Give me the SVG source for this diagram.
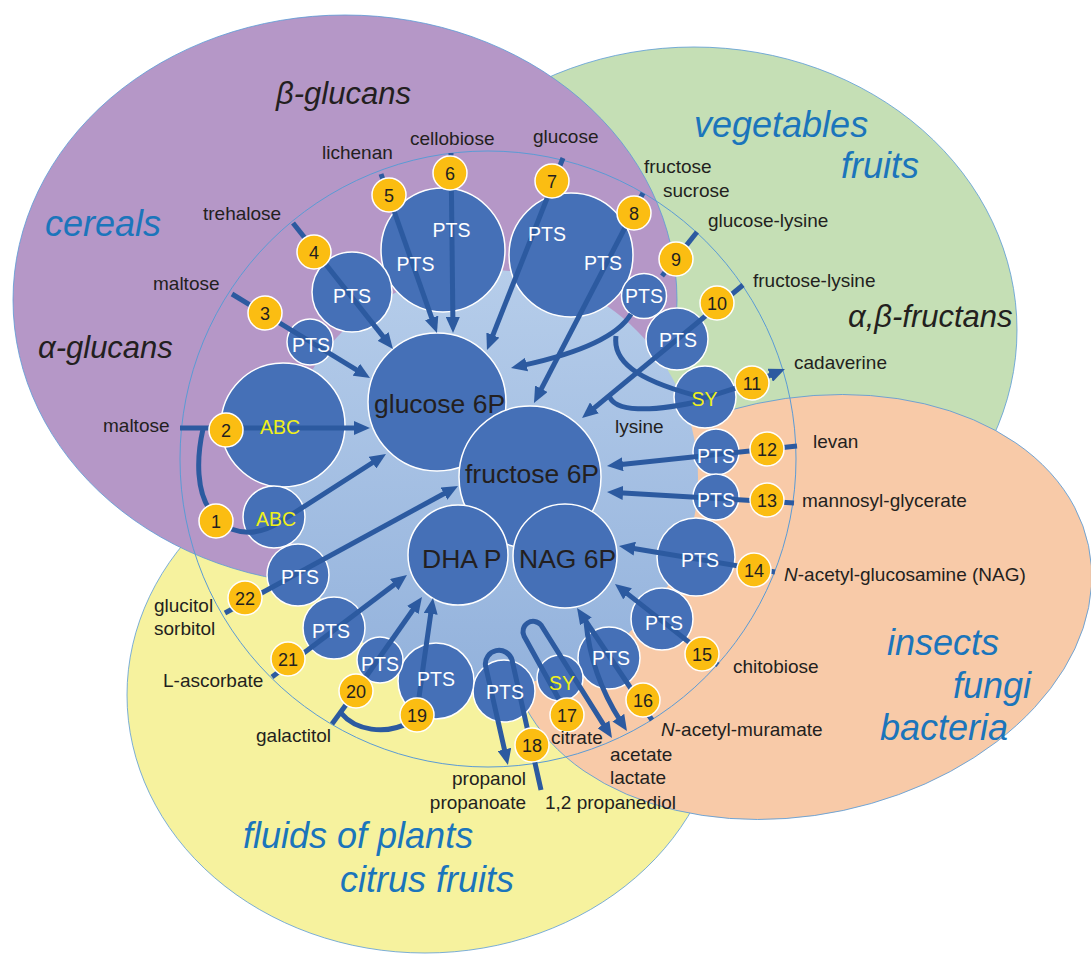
<svg xmlns="http://www.w3.org/2000/svg" width="1091" height="954" viewBox="0 0 1091 954">
<defs>
<linearGradient id="lb" x1="0" y1="0" x2="0" y2="1">
<stop offset="0" stop-color="#b6cdea"/><stop offset="1" stop-color="#93b2dc"/>
</linearGradient>
<marker id="ah" markerUnits="userSpaceOnUse" markerWidth="16" markerHeight="14" viewBox="0 0 16 14" refX="4" refY="7" orient="auto">
<path d="M0,0 L16,7 L0,14 z" fill="#2c5aa0"/>
</marker>
<style>
text{font-family:"Liberation Sans",Arial,sans-serif}
.t{font-size:19px;fill:#231f20}
.big{font-size:36px;font-style:italic;fill:#1b75bb}
.bigk{font-size:31px;font-style:italic;fill:#231f20}
.node{fill:#4570b7;stroke:#fff;stroke-width:1.5}
.num{fill:#fbbd12;stroke:#fff;stroke-width:1.5}
.numt{font-size:18px;text-anchor:middle;fill:#231f20}
.pts{font-size:19.5px;text-anchor:middle;fill:#fff}
.abc{font-size:19.5px;text-anchor:middle;fill:#f0f01a}
.cen{font-size:26.5px;fill:#231f20}
.ell{stroke:#5b9bd5;stroke-width:0.8}
.c{fill:none;stroke:#2c5aa0;stroke-width:5}
.ca{fill:none;stroke:#2c5aa0;stroke-width:5;marker-end:url(#ah)}
</style>
</defs>

<g id="regions">
<ellipse class="ell" cx="694" cy="330" rx="323" ry="283" fill="#c5dfb5"/>
<ellipse class="ell" cx="425" cy="695" rx="298" ry="258" fill="#f6f29e"/>
<ellipse class="ell" cx="800" cy="607" rx="295" ry="208" fill="#f8caa8" transform="rotate(-12 800 607)"/>
<ellipse class="ell" cx="345" cy="300" rx="332" ry="285" fill="#b597c7"/>
<circle cx="488" cy="459" r="308" fill="none" stroke="#5b9bd5" stroke-width="1"/>
<circle cx="490" cy="478" r="208" fill="url(#lb)"/>
</g>

<g id="region-labels">
<text class="bigk" x="276" y="104">β-glucans</text>
<text class="big" x="45" y="236">cereals</text>
<text class="bigk" x="38" y="358">α-glucans</text>
<text class="big" x="694" y="137">vegetables</text>
<text class="big" x="841" y="178">fruits</text>
<text class="bigk" x="848" y="327">α,β-fructans</text>
<text class="big" x="887" y="655">insects</text>
<text class="big" x="953" y="698">fungi</text>
<text class="big" x="880" y="740">bacteria</text>
<text class="big" x="243" y="848">fluids of plants</text>
<text class="big" x="340" y="892">citrus fruits</text>
</g>

<g id="node-shapes">
<g id="n-pts56"><circle class="node" cx="443" cy="250" r="62"/></g>
<g id="n-pts78"><circle class="node" cx="571" cy="255" r="62"/></g>
<g id="n-pts4"><circle class="node" cx="352" cy="292" r="40"/></g>
<g id="n-pts3"><circle class="node" cx="310" cy="342" r="23"/></g>
<g id="n-abc2"><circle class="node" cx="283" cy="425" r="62"/></g>
<g id="n-abc1"><circle class="node" cx="274" cy="517" r="31"/></g>
<g id="n-pts9"><circle class="node" cx="644" cy="296" r="22.5"/></g>
<g id="n-pts10"><circle class="node" cx="677" cy="339" r="31"/></g>
<g id="n-sy11"><circle class="node" cx="705" cy="397" r="31"/></g>
<g id="n-pts12"><circle class="node" cx="716" cy="452" r="23"/></g>
<g id="n-pts13"><circle class="node" cx="716" cy="497" r="23"/></g>
<g id="n-pts14"><circle class="node" cx="696" cy="557" r="39"/></g>
<g id="n-pts15"><circle class="node" cx="662" cy="619" r="31"/></g>
<g id="n-pts16"><circle class="node" cx="609" cy="658" r="31"/></g>
<g id="n-sy17"><circle class="node" cx="560" cy="678" r="23"/></g>
<g id="n-pts18"><circle class="node" cx="504" cy="691" r="31"/></g>
<g id="n-pts19"><circle class="node" cx="436" cy="681" r="38"/></g>
<g id="n-pts20"><circle class="node" cx="380" cy="660" r="23"/></g>
<g id="n-pts21"><circle class="node" cx="334" cy="628" r="31"/></g>
<g id="n-pts22"><circle class="node" cx="298" cy="575" r="31"/></g>
<g id="n-glc6p"><circle class="node" cx="437" cy="402" r="69"/></g>
<g id="n-fru6p"><circle class="node" cx="530" cy="477" r="71"/></g>
<g id="n-dhap"><circle class="node" cx="458" cy="555" r="50"/></g>
<g id="n-nag6p"><circle class="node" cx="565" cy="556" r="52"/></g>
</g>

<g id="connectors">
<path class="ca" d="M180,428 L358,428"/>
<path class="c" d="M203,429 C196,460 197,492 210,510"/>
<path class="ca" d="M231,529 C250,536 266,531 280,522 L375.9,460.5"/>
<path class="ca" d="M232,294 L359.8,371.8"/>
<path class="ca" d="M293,223 L385.5,339.6"/>
<path class="ca" d="M381,174 L433,321.7"/>
<path class="ca" d="M451,153 L452.9,321"/>
<path class="ca" d="M563,158 L491.4,338.8"/>
<path class="ca" d="M643,193 L539.5,392.3"/>
<path class="c" d="M697,232 L662,276"/>
<path class="ca" d="M631,314 Q612,346 522.7,365.4"/>
<path class="ca" d="M616,336 C612,365 645,383 705,398 L752,383 L773.9,373.7"/>
<path class="c" d="M609,395 C613,412 650,413 705,400"/>
<path class="ca" d="M743,285 L591.3,410.4"/>
<path class="ca" d="M797,446 L618.9,464.7"/>
<path class="ca" d="M794,503 L619,492.7"/>
<path class="ca" d="M775,572 L630.8,548"/>
<path class="ca" d="M718,665 L624.4,591.4"/>
<path class="ca" d="M652,720 L583.7,618"/>
<path class="ca" d="M586,622 Q591,675 620.5,721"/>
<path class="ca" d="M566,712 L524,636 A10.2,10.2 0 0 1 541,625 L605.6,727.8"/>
<path class="ca" d="M541,790 L512,660 A13.6,13.6 0 0 0 485.5,665.7 L505.3,753.3"/>
<path class="ca" d="M417,712 Q424,660 431.3,609.9"/>
<path class="c" d="M332,724 L356,691"/>
<path class="c" d="M341,713 C355,730 385,736 410,722"/>
<path class="ca" d="M356,691 L415.1,606.8"/>
<path class="ca" d="M272,677 L397.4,582.2"/>
<path class="ca" d="M225,613 L447.5,491.7"/>
</g>

<g id="numbers">
<g id="n1"><circle class="num" cx="216" cy="521" r="17"/><text class="numt" x="216" y="527.5">1</text></g>
<g id="n2"><circle class="num" cx="226" cy="430" r="17"/><text class="numt" x="226" y="436.5">2</text></g>
<g id="n3"><circle class="num" cx="265" cy="313" r="17"/><text class="numt" x="265" y="319.5">3</text></g>
<g id="n4"><circle class="num" cx="314" cy="252" r="17"/><text class="numt" x="314" y="258.5">4</text></g>
<g id="n5"><circle class="num" cx="389" cy="195" r="17"/><text class="numt" x="389" y="201.5">5</text></g>
<g id="n6"><circle class="num" cx="450" cy="173" r="17"/><text class="numt" x="450" y="179.5">6</text></g>
<g id="n7"><circle class="num" cx="552" cy="181" r="17"/><text class="numt" x="552" y="187.5">7</text></g>
<g id="n8"><circle class="num" cx="634" cy="213" r="17"/><text class="numt" x="634" y="219.5">8</text></g>
<g id="n9"><circle class="num" cx="676" cy="259" r="17"/><text class="numt" x="676" y="265.5">9</text></g>
<g id="n10"><circle class="num" cx="717" cy="303" r="17"/><text class="numt" x="717" y="309.5">10</text></g>
<g id="n11"><circle class="num" cx="752" cy="383" r="17"/><text class="numt" x="752" y="389.5">11</text></g>
<g id="n12"><circle class="num" cx="767" cy="449" r="17"/><text class="numt" x="767" y="455.5">12</text></g>
<g id="n13"><circle class="num" cx="767" cy="500" r="17"/><text class="numt" x="767" y="506.5">13</text></g>
<g id="n14"><circle class="num" cx="754" cy="570" r="17"/><text class="numt" x="754" y="576.5">14</text></g>
<g id="n15"><circle class="num" cx="702" cy="654" r="17"/><text class="numt" x="702" y="660.5">15</text></g>
<g id="n16"><circle class="num" cx="643" cy="700" r="17"/><text class="numt" x="643" y="706.5">16</text></g>
<g id="n17"><circle class="num" cx="567" cy="715" r="17"/><text class="numt" x="567" y="721.5">17</text></g>
<g id="n18"><circle class="num" cx="532" cy="745" r="17"/><text class="numt" x="532" y="751.5">18</text></g>
<g id="n19"><circle class="num" cx="417" cy="715" r="17"/><text class="numt" x="417" y="721.5">19</text></g>
<g id="n20"><circle class="num" cx="356" cy="691" r="17"/><text class="numt" x="356" y="697.5">20</text></g>
<g id="n21"><circle class="num" cx="288" cy="659" r="17"/><text class="numt" x="288" y="665.5">21</text></g>
<g id="n22"><circle class="num" cx="245" cy="598" r="17"/><text class="numt" x="245" y="604.5">22</text></g>
</g>

<g id="node-labels">
<text class="cen" x="374" y="413">glucose 6P</text>
<text class="cen" x="465" y="483">fructose 6P</text>
<text class="cen" x="422" y="568">DHA P</text>
<text class="cen" x="519" y="568">NAG 6P</text>
<text class="abc" x="280" y="434">ABC</text>
<text class="abc" x="276" y="526">ABC</text>
<text class="pts" x="311" y="352">PTS</text>
<text class="pts" x="352" y="303">PTS</text>
<text class="pts" x="415.5" y="271">PTS</text>
<text class="pts" x="451.5" y="237">PTS</text>
<text class="pts" x="547" y="241">PTS</text>
<text class="pts" x="603" y="270">PTS</text>
<text class="pts" x="644" y="303">PTS</text>
<text class="pts" x="678" y="347">PTS</text>
<text class="abc" x="704.5" y="406">SY</text>
<text class="pts" x="716" y="463">PTS</text>
<text class="pts" x="716" y="507">PTS</text>
<text class="pts" x="700" y="567">PTS</text>
<text class="pts" x="664" y="630">PTS</text>
<text class="pts" x="611" y="665">PTS</text>
<text class="abc" x="562" y="690">SY</text>
<text class="pts" x="505" y="699">PTS</text>
<text class="pts" x="436" y="686">PTS</text>
<text class="pts" x="380" y="671">PTS</text>
<text class="pts" x="331" y="638">PTS</text>
<text class="pts" x="300" y="584">PTS</text>
</g>

<g id="substrate-labels">
<text class="t" x="322" y="159">lichenan</text>
<text class="t" x="410" y="145">cellobiose</text>
<text class="t" x="533" y="143">glucose</text>
<text class="t" x="203" y="220">trehalose</text>
<text class="t" x="153" y="290">maltose</text>
<text class="t" x="103" y="432">maltose</text>
<text class="t" x="644" y="173">fructose</text>
<text class="t" x="663" y="197">sucrose</text>
<text class="t" x="708" y="227">glucose-lysine</text>
<text class="t" x="753" y="287">fructose-lysine</text>
<text class="t" x="794" y="369">cadaverine</text>
<text class="t" x="615" y="433">lysine</text>
<text class="t" x="813" y="448">levan</text>
<text class="t" x="802" y="507">mannosyl-glycerate</text>
<text class="t" x="784" y="581"><tspan font-style="italic">N</tspan>-acetyl-glucosamine (NAG)</text>
<text class="t" x="733" y="673">chitobiose</text>
<text class="t" x="661" y="736"><tspan font-style="italic">N</tspan>-acetyl-muramate</text>
<text class="t" x="610" y="761">acetate</text>
<text class="t" x="610" y="784">lactate</text>
<text class="t" x="551" y="744">citrate</text>
<text class="t" x="526" y="785" text-anchor="end">propanol</text>
<text class="t" x="526" y="809" text-anchor="end">propanoate</text>
<text class="t" x="545" y="809">1,2 propanediol</text>
<text class="t" x="256" y="742">galactitol</text>
<text class="t" x="163" y="687">L-ascorbate</text>
<text class="t" x="154" y="612">glucitol</text>
<text class="t" x="154" y="635">sorbitol</text>
</g>
</svg>
